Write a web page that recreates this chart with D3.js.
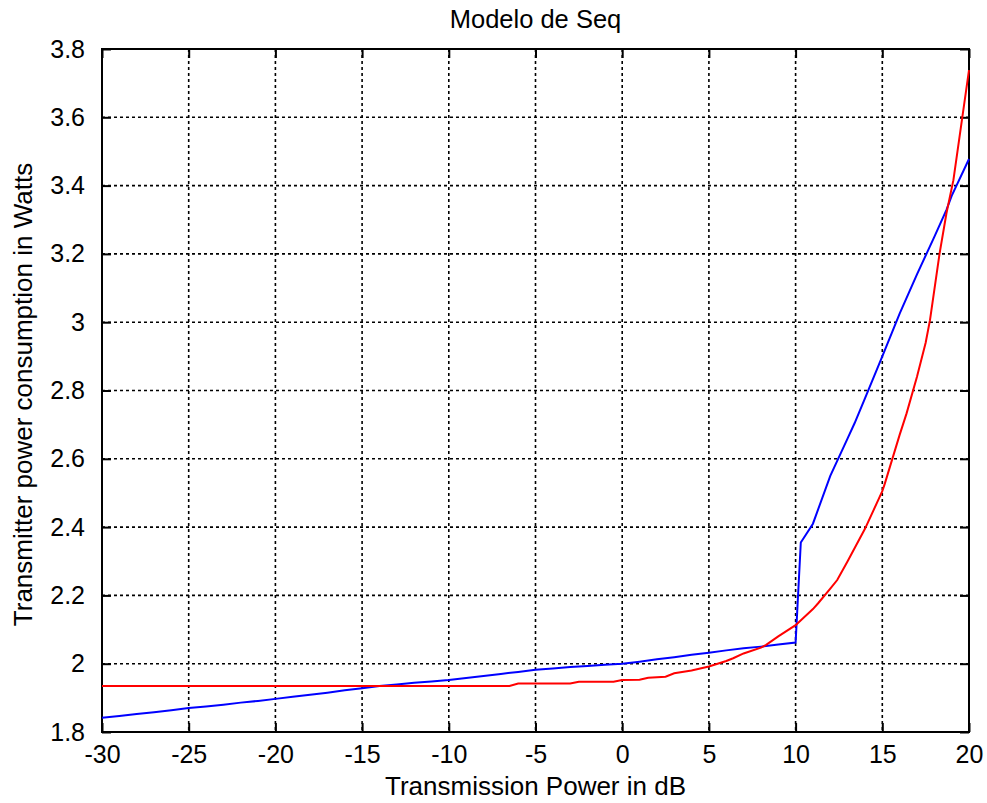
<!DOCTYPE html>
<html lang="en">
<head>
<meta charset="utf-8">
<title>Modelo de Seq</title>
<script src="https://d3js.org/d3.v7.min.js"></script>
<style>
  body { margin: 0; background: #fff; }
  text { font-family: "Liberation Sans", Arial, sans-serif; fill: #000; }
</style>
</head>
<body>
<div id="chart"></div>
<script>
// ticks
var xTicks = [-30, -25, -20, -15, -10, -5, 0, 5, 10, 15, 20];
var yTicks = [1.8, 2.0, 2.2, 2.4, 2.6, 2.8, 3.0, 3.2, 3.4, 3.6, 3.8];

// blue curve
var blueX = [-30, -29, -28, -27, -26, -25, -24, -23, -22, -21, -20, -19, -18, -17, -16, -15,
  -14, -13, -12, -11, -10, -9, -8, -7, -6, -5, -4, -3, -2, -1, 0, 1, 2, 3, 4, 5, 6, 7, 8, 9, 10,
  10.3, 11, 12, 13, 13.4, 14, 15, 16, 17, 18, 18.7, 19, 20];
var blueY = [1.842, 1.847, 1.853, 1.858, 1.864, 1.870, 1.875, 1.880, 1.886, 1.891, 1.897, 1.903,
  1.909, 1.915, 1.922, 1.928, 1.935, 1.939, 1.944, 1.948, 1.952, 1.958, 1.964, 1.970, 1.976,
  1.982, 1.986, 1.990, 1.993, 1.997, 2.000, 2.006, 2.013, 2.019, 2.026, 2.032, 2.039, 2.045,
  2.050, 2.056, 2.062, 2.355, 2.41, 2.55, 2.66, 2.704, 2.777, 2.90, 3.025, 3.14, 3.25, 3.329,
  3.37, 3.478];

// red curve
var redX = [-30, -6.5, -6, -3, -2.5, -0.5, 0, 1, 1.5, 2.5, 3, 4, 4.5, 5, 6, 6.4, 7, 8, 8.3, 9,
  10, 11, 11.3, 12, 12.4, 13, 14, 15, 15.15, 16, 16.4, 17, 17.5, 17.75, 18.3, 18.7, 19.1, 20];
var redY = [1.935, 1.935, 1.942, 1.942, 1.947, 1.947, 1.952, 1.953, 1.959, 1.962, 1.972, 1.98,
  1.986, 1.992, 2.008, 2.016, 2.03, 2.047, 2.055, 2.08, 2.113, 2.16, 2.177, 2.22, 2.245, 2.30,
  2.395, 2.505, 2.528, 2.67, 2.733, 2.84, 2.94, 3.006, 3.20, 3.319, 3.416, 3.738];

var W = 987, H = 803;
var margin = {top: 49, right: 18, bottom: 71, left: 102};
var w = W - margin.left - margin.right;
var h = H - margin.top - margin.bottom;

var svg = d3.select("#chart").append("svg")
  .attr("width", W)
  .attr("height", H);

var g = svg.append("g")
  .attr("transform", "translate(" + margin.left + "," + margin.top + ")");

var x = d3.scaleLinear().domain([-30, 20]).range([0, w]);
var y = d3.scaleLinear().domain([1.8, 3.8]).range([h, 0]);

// dotted grid
g.append("g").selectAll("line")
  .data(xTicks.slice(1, -1))
  .enter().append("line")
  .attr("x1", function(d) { return x(d); })
  .attr("x2", function(d) { return x(d); })
  .attr("y1", 0).attr("y2", h)
  .style("stroke", "#000").style("stroke-width", 1.6)
  .style("stroke-dasharray", "3,3");

g.append("g").selectAll("line")
  .data(yTicks.slice(1, -1))
  .enter().append("line")
  .attr("y1", function(d) { return y(d); })
  .attr("y2", function(d) { return y(d); })
  .attr("x1", 0).attr("x2", w)
  .style("stroke", "#000").style("stroke-width", 1.6)
  .style("stroke-dasharray", "3,3");

// axes, ticks pointing inward; plain hyphen for negatives like the original
var fmtX = function(d) { return String(d); };
var fmtY = function(d) { return String(+d.toFixed(1)); };

var xAxis = g.append("g")
  .attr("transform", "translate(0," + h + ")")
  .call(d3.axisBottom(x).tickValues(xTicks).tickSize(-9).tickPadding(22).tickFormat(fmtX));
var xTop = g.append("g")
  .call(d3.axisTop(x).tickValues(xTicks).tickSize(-9).tickFormat(""));
var yAxis = g.append("g")
  .call(d3.axisLeft(y).tickValues(yTicks).tickSize(-9).tickPadding(17).tickFormat(fmtY));
var yRight = g.append("g")
  .attr("transform", "translate(" + w + ",0)")
  .call(d3.axisRight(y).tickValues(yTicks).tickSize(-9).tickFormat(""));

[xAxis, xTop, yAxis, yRight].forEach(function(a) {
  a.select(".domain").remove();
  a.selectAll(".tick line").style("stroke", "#000").style("stroke-width", 2);
  a.selectAll("text").style("font-size", "25px").style("font-family", "Liberation Sans, Arial, sans-serif");
});
xAxis.selectAll("text").attr("dy", "0.35em");

// box
g.append("rect")
  .attr("x", 0).attr("y", 0)
  .attr("width", w).attr("height", h)
  .style("fill", "none").style("stroke", "#000").style("stroke-width", 2);

// lines
var line = d3.line()
  .x(function(d) { return x(d[0]); })
  .y(function(d) { return y(d[1]); });

g.append("path")
  .datum(d3.zip(blueX, blueY))
  .attr("d", line)
  .style("fill", "none").style("stroke", "#0000ff").style("stroke-width", 2);

g.append("path")
  .datum(d3.zip(redX, redY))
  .attr("d", line)
  .style("fill", "none").style("stroke", "#ff0000").style("stroke-width", 2);

// title and labels
svg.append("text")
  .attr("x", margin.left + w / 2).attr("y", 28)
  .attr("text-anchor", "middle")
  .style("font-size", "25.5px")
  .text("Modelo de Seq");

svg.append("text")
  .attr("x", margin.left + w / 2).attr("y", 795)
  .attr("text-anchor", "middle")
  .style("font-size", "26px")
  .text("Transmission Power in dB");

svg.append("text")
  .attr("transform", "translate(32," + (margin.top + h / 2 + 4) + ") rotate(-90)")
  .attr("text-anchor", "middle")
  .style("font-size", "26px")
  .text("Transmitter power consumption in Watts");
</script>
</body>
</html>
